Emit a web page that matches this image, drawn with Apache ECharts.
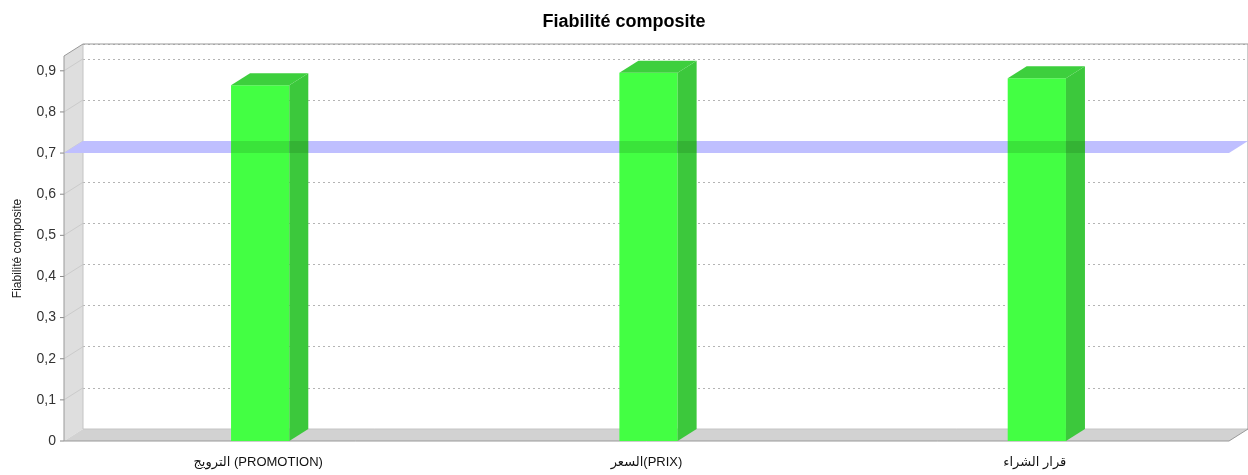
<!DOCTYPE html>
<html>
<head>
<meta charset="utf-8">
<script src="https://cdn.jsdelivr.net/npm/echarts@6/dist/echarts.min.js"></script>
<style>
  html, body { margin: 0; padding: 0; background: #fff; }
  #chart { width: 1248px; height: 475px; }
</style>
</head>
<body>
<div id="chart"></div>
<script>
// Composite reliability per construct
const categories = ['الترويج (PROMOTION)', 'السعر(PRIX)', 'قرار الشراء'];
const reliability = [0.865, 0.895, 0.882];
const threshold = 0.7;
const yTicks = [0, 0.1, 0.2, 0.3, 0.4, 0.5, 0.6, 0.7, 0.8, 0.9];
const yMin = 0;
const yMax = 0.936;

// depth offset of the pseudo-3D plot
const DX = 19, DY = -12;

const fmt = v => String(Math.round(v * 10) / 10).replace('.', ',');

const chart = echarts.init(document.getElementById('chart'), null, { renderer: 'canvas' });

function renderFrame(params, api) {
  const cs = params.coordSys;
  const x0 = cs.x, x1 = cs.x + cs.width;
  const yB = api.coord([0, yMin])[1];
  const yT = cs.y;
  const kids = [];
  // left wall
  kids.push({ type: 'polygon', shape: { points: [[x0, yB], [x0, yT], [x0 + DX, yT + DY], [x0 + DX, yB + DY]] },
    style: { fill: '#dedede', stroke: null } });
  // floor
  kids.push({ type: 'polygon', shape: { points: [[x0, yB], [x1, yB], [x1 + DX, yB + DY], [x0 + DX, yB + DY]] },
    style: { fill: '#d2d2d2', stroke: null } });
  // grid lines continued across the left wall, plus tick marks
  yTicks.forEach(v => {
    const y = api.coord([0, v])[1];
    if (v > 0) {
      kids.push({ type: 'line', shape: { x1: x0, y1: y, x2: x0 + DX, y2: y + DY },
        style: { stroke: '#cbcbcb', lineWidth: 1 } });
    }
    kids.push({ type: 'line', shape: { x1: x0 - 4, y1: y, x2: x0, y2: y },
      style: { stroke: '#888', lineWidth: 1 } });
  });
  // wall edges
  kids.push({ type: 'polyline', shape: { points: [[x0 + DX, yT + DY], [x0 + DX, yB + DY], [x1 + DX, yB + DY]] },
    style: { stroke: '#c4c4c4', lineWidth: 1, fill: null } });
  // outline
  kids.push({ type: 'polygon', shape: { points: [[x0, yB], [x0, yT], [x0 + DX, yT + DY], [x1 + DX, yT + DY], [x1 + DX, yB + DY], [x1, yB]] },
    style: { fill: null, stroke: '#999', lineWidth: 1 } });
  // threshold marker plane
  const y7 = api.coord([0, threshold])[1];
  kids.push({ type: 'polygon', shape: { points: [[x0, y7], [x1, y7], [x1 + DX, y7 + DY], [x0 + DX, y7 + DY]] },
    style: { fill: '#bfbfff', stroke: null } });
  return { type: 'group', children: kids };
}

function renderBar(params, api) {
  const idx = api.value(0);
  const top = api.coord([idx, api.value(1)]);
  const base = api.coord([idx, yMin]);
  const w = api.size([1, 0])[0] * 0.15;
  const xl = top[0] - w / 2 + 2, xr = xl + w;
  const yT = top[1], yB = base[1];
  const y7 = api.coord([idx, threshold])[1];
  return {
    type: 'group',
    children: [
      { type: 'rect', shape: { x: xl, y: yT, width: w, height: yB - yT }, style: { fill: '#43ff43' } },
      { type: 'polygon', shape: { points: [[xr, yB], [xr, yT], [xr + DX, yT + DY], [xr + DX, yB + DY]] }, style: { fill: '#3cc83c' } },
      { type: 'polygon', shape: { points: [[xl, yT], [xr, yT], [xr + DX, yT + DY], [xl + DX, yT + DY]] }, style: { fill: '#3dcf3d' } },
      { type: 'rect', shape: { x: xl, y: y7 + DY, width: w + DX, height: -DY }, style: { fill: 'rgba(0,40,0,0.13)' } }
    ]
  };
}

const option = {
  animation: false,
  backgroundColor: '#fff',
  title: {
    text: 'Fiabilité composite',
    left: 'center', top: 8,
    textStyle: { fontFamily: 'Liberation Sans, Arial, sans-serif', fontSize: 18, fontWeight: 'bold', color: '#000' }
  },
  grid: [
    { left: 64, top: 56, width: 1165, height: 385 },
    { left: 64 + DX, top: 56 + DY, width: 1165, height: 385 }
  ],
  xAxis: [
    { type: 'category', gridIndex: 0, data: categories, boundaryGap: true,
      axisLine: { show: false }, axisTick: { show: false },
      axisLabel: { margin: 15, fontSize: 13, color: '#111', fontFamily: 'Liberation Sans, DejaVu Sans, sans-serif' } },
    { type: 'category', gridIndex: 1, data: categories, boundaryGap: true, show: false }
  ],
  yAxis: [
    { type: 'value', gridIndex: 0, min: yMin, max: yMax, interval: 0.1,
      name: 'Fiabilité composite', nameLocation: 'middle', nameRotate: 90, nameGap: 40,
      nameTextStyle: { fontSize: 12, color: '#222', fontFamily: 'Liberation Sans, Arial, sans-serif' },
      axisLine: { show: false }, axisTick: { show: false }, splitLine: { show: false },
      axisLabel: { showMaxLabel: false, margin: 8, fontSize: 14, color: '#333',
        fontFamily: 'Liberation Sans, Arial, sans-serif', formatter: fmt } },
    { type: 'value', gridIndex: 1, min: yMin, max: yMax, interval: 0.1,
      axisLine: { show: false }, axisTick: { show: false }, axisLabel: { show: false },
      splitLine: { show: true, lineStyle: { color: '#b4b4b4', type: [2, 3], width: 1 } } }
  ],
  series: [
    { type: 'custom', xAxisIndex: 0, yAxisIndex: 0, z: 2, silent: true,
      data: [[0, 0]], renderItem: renderFrame },
    { type: 'custom', name: 'Fiabilité composite', xAxisIndex: 0, yAxisIndex: 0, z: 4,
      data: reliability.map((v, i) => [i, v]), renderItem: renderBar }
  ]
};

chart.setOption(option);
</script>
</body>
</html>
